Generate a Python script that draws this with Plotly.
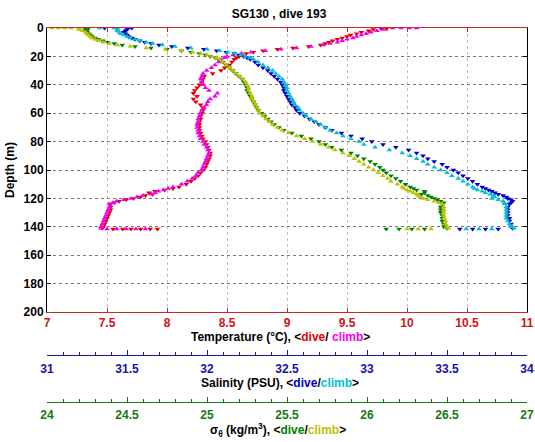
import plotly.graph_objects as go

# ---------------- data ----------------
DEPTH = [0, 1, 2, 3, 4, 5, 6, 7, 8, 9, 10, 11, 12, 13, 14, 15, 16, 17, 18, 19, 20, 21, 22,
         24, 26, 28, 30, 32, 34, 36, 38, 40, 42, 44, 46, 48, 50, 52, 54, 56, 58, 60, 62,
         64, 66, 68, 70, 72, 74, 76, 78, 80, 82, 84, 86, 88, 90, 92, 94, 96, 98, 100, 102,
         104, 106, 108, 110, 112,
         113, 114, 115, 116, 117, 118, 119, 120, 121, 122, 123, 124,
         126, 128, 130, 132, 134, 136, 138, 140, 141]

TEMP_DIVE = [9.78, 9.72, 9.68, 9.62, 9.58, 9.53, 9.50, 9.46, 9.42, 9.38, 9.35, 9.32, 9.28, 9.18, 9.05, 8.92, 8.80, 8.72, 8.66, 8.62, 8.60, 8.58, 8.56,
             8.54, 8.52, 8.48, 8.45, 8.38, 8.31, 8.30, 8.29, 8.27, 8.25, 8.23, 8.22, 8.25, 8.22, 8.24, 8.28, 8.30, 8.30, 8.29, 8.28,
             8.28, 8.27, 8.27, 8.27, 8.27, 8.28, 8.29, 8.30, 8.32, 8.33, 8.34, 8.35, 8.36, 8.36, 8.35, 8.34, 8.33, 8.32, 8.30, 8.28,
             8.26, 8.23, 8.20, 8.16, 8.10,
             8.05, 7.98, 7.90, 7.85, 7.88, 7.82, 7.78, 7.72, 7.66, 7.60, 7.56, 7.53,
             7.53, 7.53, 7.52, 7.51, 7.50, 7.49, 7.48, 7.47, 7.46]

TEMP_CLIMB = [9.88, 9.80, 9.75, 9.70, 9.66, 9.62, 9.58, 9.55, 9.50, 9.46, 9.42, 9.36, 9.30, 9.20, 9.08, 8.95, 8.82, 8.70, 8.62, 8.55, 8.50, 8.48, 8.45,
              8.43, 8.40, 8.37, 8.33, 8.30, 8.29, 8.28, 8.29, 8.30, 8.32, 8.35, 8.42, 8.40, 8.36, 8.34, 8.33, 8.31, 8.29, 8.28, 8.27,
              8.26, 8.26, 8.25, 8.25, 8.26, 8.26, 8.27, 8.28, 8.30, 8.31, 8.33, 8.34, 8.35, 8.34, 8.33, 8.32, 8.31, 8.30, 8.29, 8.26,
              8.24, 8.21, 8.17, 8.12, 8.05,
              8.01, 7.97, 7.93, 7.90, 7.87, 7.80, 7.75, 7.70, 7.64, 7.58, 7.55, 7.52,
              7.52, 7.51, 7.50, 7.49, 7.48, 7.47, 7.46, 7.45, 7.45]

SAL_DIVE = [31.51, 31.50, 31.49, 31.48, 31.49, 31.50, 31.51, 31.53, 31.55, 31.58, 31.61, 31.65, 31.70, 31.78, 31.88, 31.98, 32.06, 32.12, 32.17, 32.20, 32.23, 32.25, 32.27,
            32.30, 32.32, 32.35, 32.38, 32.40, 32.42, 32.44, 32.46, 32.47, 32.48, 32.48, 32.49, 32.50, 32.51, 32.52, 32.53, 32.55, 32.56, 32.58, 32.61,
            32.64, 32.67, 32.70, 32.74, 32.78, 32.84, 32.90, 32.97, 33.03, 33.10, 33.18, 33.26, 33.31, 33.35, 33.38, 33.42, 33.47, 33.50, 33.54, 33.57,
            33.60, 33.63, 33.66, 33.69, 33.72,
            33.74, 33.76, 33.78, 33.80, 33.82, 33.85, 33.87, 33.88, 33.90, 33.91, 33.90, 33.89,
            33.88, 33.88, 33.88, 33.88, 33.89, 33.89, 33.90, 33.90, 33.91]

SAL_CLIMB = [31.44, 31.44, 31.44, 31.45, 31.46, 31.48, 31.50, 31.52, 31.55, 31.58, 31.62, 31.66, 31.72, 31.80, 31.90, 32.00, 32.08, 32.13, 32.17, 32.21, 32.24, 32.27, 32.29,
             32.32, 32.35, 32.38, 32.41, 32.43, 32.45, 32.47, 32.48, 32.49, 32.50, 32.50, 32.51, 32.52, 32.53, 32.54, 32.55, 32.57, 32.58, 32.60, 32.62,
             32.65, 32.68, 32.71, 32.74, 32.77, 32.81, 32.85, 32.90, 32.95, 32.98, 33.05, 33.14, 33.22, 33.27, 33.31, 33.35, 33.38, 33.42, 33.46, 33.50,
             33.53, 33.57, 33.60, 33.63, 33.66,
             33.67, 33.69, 33.72, 33.74, 33.77, 33.79, 33.80, 33.78, 33.82, 33.85, 33.86, 33.86,
             33.87, 33.87, 33.87, 33.87, 33.87, 33.88, 33.89, 33.90, 33.92]

SIG_DIVE = [24.24, 24.24, 24.25, 24.25, 24.26, 24.27, 24.28, 24.30, 24.32, 24.35, 24.38, 24.42, 24.47, 24.55, 24.65, 24.75, 24.84, 24.90, 24.95, 24.99, 25.02, 25.05, 25.07,
            25.10, 25.12, 25.14, 25.16, 25.18, 25.20, 25.22, 25.23, 25.24, 25.25, 25.25, 25.26, 25.27, 25.28, 25.29, 25.30, 25.31, 25.32, 25.34, 25.36,
            25.38, 25.40, 25.42, 25.45, 25.48, 25.53, 25.59, 25.65, 25.70, 25.74, 25.78, 25.84, 25.90, 25.94, 25.98, 26.02, 26.05, 26.08, 26.10, 26.12,
            26.15, 26.18, 26.21, 26.24, 26.27,
            26.29, 26.31, 26.36, 26.36, 26.34, 26.38, 26.40, 26.42, 26.44, 26.46, 26.48, 26.47,
            26.46, 26.46, 26.46, 26.47, 26.47, 26.47, 26.48, 26.48, 26.50]

SIG_CLIMB = [24.20, 24.20, 24.22, 24.24, 24.25, 24.26, 24.27, 24.28, 24.30, 24.32, 24.35, 24.39, 24.44, 24.52, 24.62, 24.74, 24.84, 24.91, 24.96, 25.00, 25.03, 25.06, 25.08,
             25.10, 25.12, 25.14, 25.16, 25.18, 25.20, 25.22, 25.24, 25.25, 25.26, 25.26, 25.27, 25.28, 25.28, 25.29, 25.30, 25.31, 25.32, 25.33, 25.35,
             25.37, 25.39, 25.41, 25.44, 25.47, 25.51, 25.56, 25.61, 25.66, 25.71, 25.76, 25.80, 25.85, 25.89, 25.92, 25.95, 25.98, 26.01, 26.04, 26.07,
             26.10, 26.13, 26.15, 26.19, 26.22,
             26.23, 26.25, 26.27, 26.29, 26.31, 26.32, 26.33, 26.35, 26.38, 26.42, 26.45, 26.47,
             26.48, 26.48, 26.48, 26.48, 26.48, 26.49, 26.49, 26.50, 26.51]

# isolated samples at the surface and at the apogee of the dive
EXTRA_TEMP_DIVE_D = [0.5, 141.5, 141.5, 141.5, 141.5, 141.5, 141.5]
EXTRA_TEMP_DIVE = [9.83, 7.55, 7.63, 7.70, 7.78, 7.86, 7.92]
EXTRA_TEMP_CLIMB_D = [0, 0, 0, 141.5, 141.5, 141.5, 141.5, 141.5]
EXTRA_TEMP_CLIMB = [9.95, 10.02, 10.08, 7.50, 7.58, 7.66, 7.74, 7.82]
EXTRA_SAL_DIVE_D = [0, 0, 141.5, 141.5, 141.5, 141.5]
EXTRA_SAL_DIVE = [31.36, 31.53, 33.58, 33.66, 33.74, 33.82]
EXTRA_SAL_CLIMB_D = [0, 0, 141.5, 141.5, 141.5]
EXTRA_SAL_CLIMB = [31.33, 31.42, 33.62, 33.70, 33.78]
EXTRA_SIG_DIVE_D = [0, 141.5, 141.5, 141.5, 141.5]
EXTRA_SIG_DIVE = [24.26, 26.12, 26.20, 26.28, 26.36]
EXTRA_SIG_CLIMB_D = [0, 0, 0, 0, 141.5, 141.5, 141.5]
EXTRA_SIG_CLIMB = [24.03, 24.07, 24.11, 24.15, 26.25, 26.32, 26.40]

TEMP_TICKS = [7, 7.5, 8, 8.5, 9, 9.5, 10, 10.5, 11]
SAL_TICKS = [31, 31.5, 32, 32.5, 33, 33.5, 34]
SIG_TICKS = [24, 24.5, 25, 25.5, 26, 26.5, 27]
DEPTH_TICKS = [0, 20, 40, 60, 80, 100, 120, 140, 160, 180, 200]

# ---------------- styling ----------------
W, H = 535, 442
ML, MR, MT, MB = 47, 8, 28, 10
PH = H - MT - MB  # paper height in px
PW = W - ML - MR


def py(ypx):
    return (H - MB - ypx) / PH


def px(xpx):
    return (xpx - ML) / PW


RED, MAGENTA = "rgb(228,0,0)", "rgb(240,0,240)"
BLUE, CYAN = "rgb(0,0,205)", "rgb(0,192,210)"
GREEN, OLIVE = "rgb(0,128,0)", "rgb(192,192,0)"
T_AX, S_AX, G_AX = "rgb(205,20,20)", "rgb(20,20,170)", "rgb(20,120,20)"
FONT = "Liberation Sans, Arial, sans-serif"

fig = go.Figure()


def add(vals, extra_d, extra_v, color, symbol, xa):
    fig.add_trace(go.Scatter(
        x=list(vals) + list(extra_v), y=list(DEPTH) + list(extra_d),
        mode="markers", xaxis=xa, yaxis="y",
        marker=dict(symbol=symbol, size=5, color=color, line=dict(width=0)),
        showlegend=False, hoverinfo="skip"))


add(TEMP_DIVE, EXTRA_TEMP_DIVE_D, EXTRA_TEMP_DIVE, RED, "triangle-down", "x")
add(TEMP_CLIMB, EXTRA_TEMP_CLIMB_D, EXTRA_TEMP_CLIMB, MAGENTA, "triangle-up", "x")
add(SAL_DIVE, EXTRA_SAL_DIVE_D, EXTRA_SAL_DIVE, BLUE, "triangle-down", "x2")
add(SAL_CLIMB, EXTRA_SAL_CLIMB_D, EXTRA_SAL_CLIMB, CYAN, "triangle-up", "x2")
add(SIG_DIVE, EXTRA_SIG_DIVE_D, EXTRA_SIG_DIVE, GREEN, "triangle-down", "x3")
add(SIG_CLIMB, EXTRA_SIG_CLIMB_D, EXTRA_SIG_CLIMB, OLIVE, "triangle-up", "x3")

bold12 = dict(family=FONT, size=12, weight="bold")

fig.update_layout(
    width=W, height=H,
    margin=dict(l=ML, r=MR, t=MT, b=MB, pad=0, autoexpand=False),
    paper_bgcolor="white", plot_bgcolor="white",
    font=dict(family=FONT, size=12, color="black"),
    title=dict(text="<b>SG130 , dive 193</b>", font=dict(family=FONT, size=12, color="black"),
               x=279 / W, xref="container", xanchor="center",
               y=1 - 14 / H, yref="container", yanchor="middle", automargin=False),
    xaxis=dict(range=[7, 11], tickvals=TEMP_TICKS, ticktext=[f"{v:g}" for v in TEMP_TICKS],
               domain=[0, 1], anchor="y", side="bottom", automargin=False,
               showline=True, linecolor="rgb(200,40,40)", linewidth=1, mirror="ticks",
               ticks="inside", ticklen=4, tickcolor="rgb(200,40,40)",
               tickfont=dict(family=FONT, size=12, weight="bold", color=T_AX),
               showgrid=True, gridcolor="rgb(205,185,185)", griddash="dot", gridwidth=1,
               zeroline=False),
    xaxis2=dict(range=[31, 34], tickvals=SAL_TICKS, ticktext=[f"{v:g}" for v in SAL_TICKS],
                overlaying="x", anchor="free", position=py(355), side="bottom", automargin=False,
                showline=True, linecolor=S_AX, linewidth=1,
                ticks="inside", ticklen=5, tickcolor=S_AX,
                minor=dict(dtick=0.1, tick0=31, ticks="inside", ticklen=3, tickcolor=S_AX, showgrid=False),
                tickfont=dict(family=FONT, size=12, weight="bold", color=S_AX),
                ticklabelstandoff=3,
                showgrid=False, zeroline=False),
    xaxis3=dict(range=[24, 27], tickvals=SIG_TICKS, ticktext=[f"{v:g}" for v in SIG_TICKS],
                overlaying="x", anchor="free", position=py(402), side="bottom", automargin=False,
                showline=True, linecolor=G_AX, linewidth=1,
                ticks="inside", ticklen=5, tickcolor=G_AX,
                minor=dict(dtick=0.1, tick0=24, ticks="inside", ticklen=3, tickcolor=G_AX, showgrid=False),
                tickfont=dict(family=FONT, size=12, weight="bold", color=G_AX),
                ticklabelstandoff=2,
                showgrid=False, zeroline=False),
    yaxis=dict(range=[200, 0], tickvals=DEPTH_TICKS, domain=[py(312), 1], anchor="x",
               automargin=False,
               showline=True, linecolor="black", linewidth=1, mirror="ticks",
               ticks="inside", ticklen=4, tickcolor="black",
               tickfont=bold12,
               title=dict(text="<b>Depth (m)</b>", font=dict(family=FONT, size=12), standoff=6),
               showgrid=True, gridcolor="rgb(120,120,120)", griddash="dot", gridwidth=1,
               zeroline=False),
)

ann = [
    (280, 337, f"<b>Temperature (°C), &lt;<span style='color:{RED}'>dive</span>/ "
               f"<span style='color:{MAGENTA}'>climb</span>&gt;</b>"),
    (280, 383, f"<b>Salinity (PSU), &lt;<span style='color:{BLUE}'>dive</span>/"
               f"<span style='color:{CYAN}'>climb</span>&gt;</b>"),
    (278, 429.5, f"<b>σ<sub>θ</sub> (kg/m<sup>3</sup>), &lt;<span style='color:{GREEN}'>dive</span>/"
                 f"<span style='color:{OLIVE}'>climb</span>&gt;</b>"),
]
for xx, yy, txt in ann:
    fig.add_annotation(x=px(xx), y=py(yy), xref="paper", yref="paper", text=txt,
                       showarrow=False, xanchor="center", yanchor="middle",
                       font=dict(family=FONT, size=12, color="black"))

fig.write_html("out.html", config={"displayModeBar": False},
               post_script="document.body.style.margin='0';document.body.style.overflow='hidden';")
